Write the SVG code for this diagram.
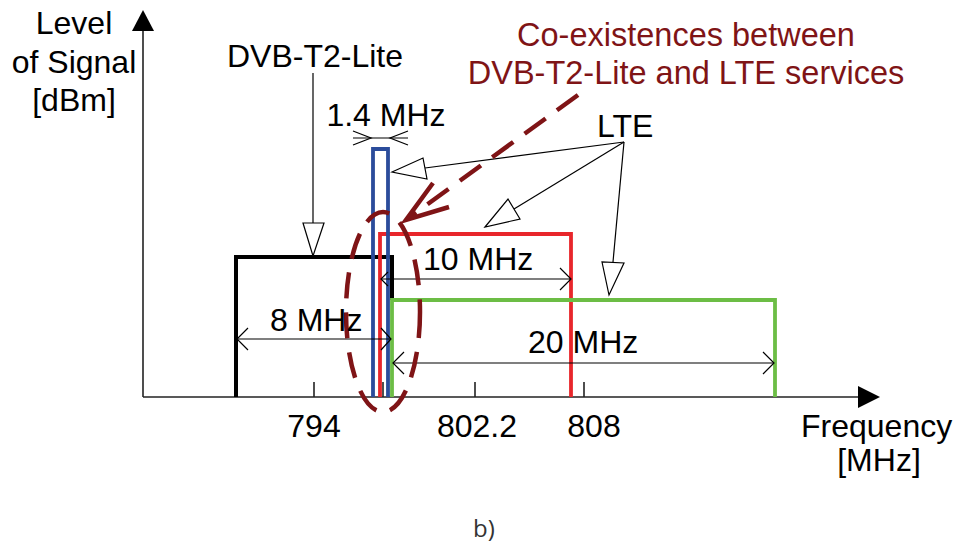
<svg xmlns="http://www.w3.org/2000/svg" width="961" height="548" viewBox="0 0 961 548">
<defs>
<style>
text{font-family:"Liberation Sans",Arial,sans-serif;font-size:32px;fill:#000}
.red{fill:#7f1416;font-size:32.5px}
.mid{text-anchor:middle}
.thin{fill:none;stroke:#000;stroke-width:1.2}
.axis{fill:none;stroke:#222;stroke-width:1.6}
.tri{fill:#fff;stroke:#000;stroke-width:1.2}
.dash{fill:none;stroke:#7f1416;stroke-width:4.5;stroke-dasharray:26,14;stroke-linecap:butt}
</style>
</defs>
<rect width="961" height="548" fill="#fff"/>
<g id="axes">
<line class="axis" x1="143" y1="397" x2="143" y2="30"/>
<polygon points="143,10 132,31 154,31" fill="#000"/>
<line class="axis" x1="143" y1="397" x2="860" y2="397"/>
<polygon points="880,397 858,386 858,408" fill="#000"/>
<line class="axis" x1="314" y1="382" x2="314" y2="397"/>
<line class="axis" x1="383" y1="382" x2="383" y2="397"/>
<line class="axis" x1="475" y1="382" x2="475" y2="397"/>
<line class="axis" x1="584" y1="382" x2="584" y2="397"/>
</g>
<g id="axis-labels">
<text class="mid" x="74" y="34">Level</text>
<text class="mid" x="74" y="73">of Signal</text>
<text class="mid" x="74" y="111">[dBm]</text>
<text class="mid" x="314" y="437">794</text>
<text class="mid" x="477" y="437">802.2</text>
<text class="mid" x="594" y="437">808</text>
<text x="801" y="437">Frequency</text>
<text class="mid" x="879" y="471">[MHz]</text>
<text class="mid" x="484" y="537" style="font-size:24px;fill:#333;font-family:'Open Sans','DejaVu Sans',sans-serif">b)</text>
</g>
<g id="dvb-8mhz">
<path d="M236,397 V257 H392 V300" fill="none" stroke="#000" stroke-width="4"/>
</g>
<g id="lte-10mhz">
<path d="M380,397 V234 H571 V397" fill="none" stroke="#e8262b" stroke-width="3.8"/>
</g>
<g id="lte-20mhz">
<path d="M392,397 V300 H775 V397" fill="none" stroke="#6cbd45" stroke-width="3.8"/>
</g>
<g id="dvb-1-4mhz">
<path d="M373,397 V149 H388 V397" fill="none" stroke="#2b4c9b" stroke-width="3.8"/>
</g>
<g id="connectors">
<line class="thin" x1="353" y1="138" x2="408" y2="138"/>
<polyline class="thin" points="353,131 371,138 353,145"/>
<polyline class="thin" points="408,131 390,138 408,145"/>
<line class="thin" x1="237" y1="339" x2="391" y2="339"/>
<polyline class="thin" points="248,328 237,339 248,350"/>
<polyline class="thin" points="381,328 391,339 381,350"/>
<line class="thin" x1="381" y1="279" x2="571" y2="279"/>
<polyline class="thin" points="388,272 381,279 388,286"/>
<polyline class="thin" points="560,268 571,279 560,290"/>
<line class="thin" x1="393" y1="363" x2="774" y2="363"/>
<polyline class="thin" points="404,352 393,363 404,374"/>
<polyline class="thin" points="763,352 774,363 763,374"/>
<line class="thin" x1="313" y1="73" x2="313" y2="223"/>
<polygon class="tri" points="303,223 324,223 313,256"/>
<line class="thin" x1="624" y1="142" x2="425" y2="168"/>
<polygon class="tri" points="392,172 423,158 427,179"/>
<line class="thin" x1="624" y1="142" x2="514" y2="209"/>
<polygon class="tri" points="485,227 508,199 520,219"/>
<line class="thin" x1="624" y1="142" x2="613" y2="262"/>
<polygon class="tri" points="609,295 602,262 624,263"/>
<line class="dash" x1="578" y1="95" x2="410" y2="217"/>
<polyline points="433,183 406,220 449,207" fill="none" stroke="#7f1416" stroke-width="4.5" stroke-linejoin="miter"/>
<ellipse class="dash" cx="383" cy="312" rx="37" ry="100"/>
</g>
<g id="labels">
<text class="mid" x="315" y="67">DVB-T2-Lite</text>
<text class="mid" x="386" y="126">1.4 MHz</text>
<text x="597" y="137">LTE</text>
<text x="423" y="270">10 MHz</text>
<text x="270" y="331">8 MHz</text>
<text x="528" y="353">20 MHz</text>
<text class="mid red" x="686" y="46">Co-existences between</text>
<text class="mid red" x="686" y="84">DVB-T2-Lite and LTE services</text>
</g>
</svg>
